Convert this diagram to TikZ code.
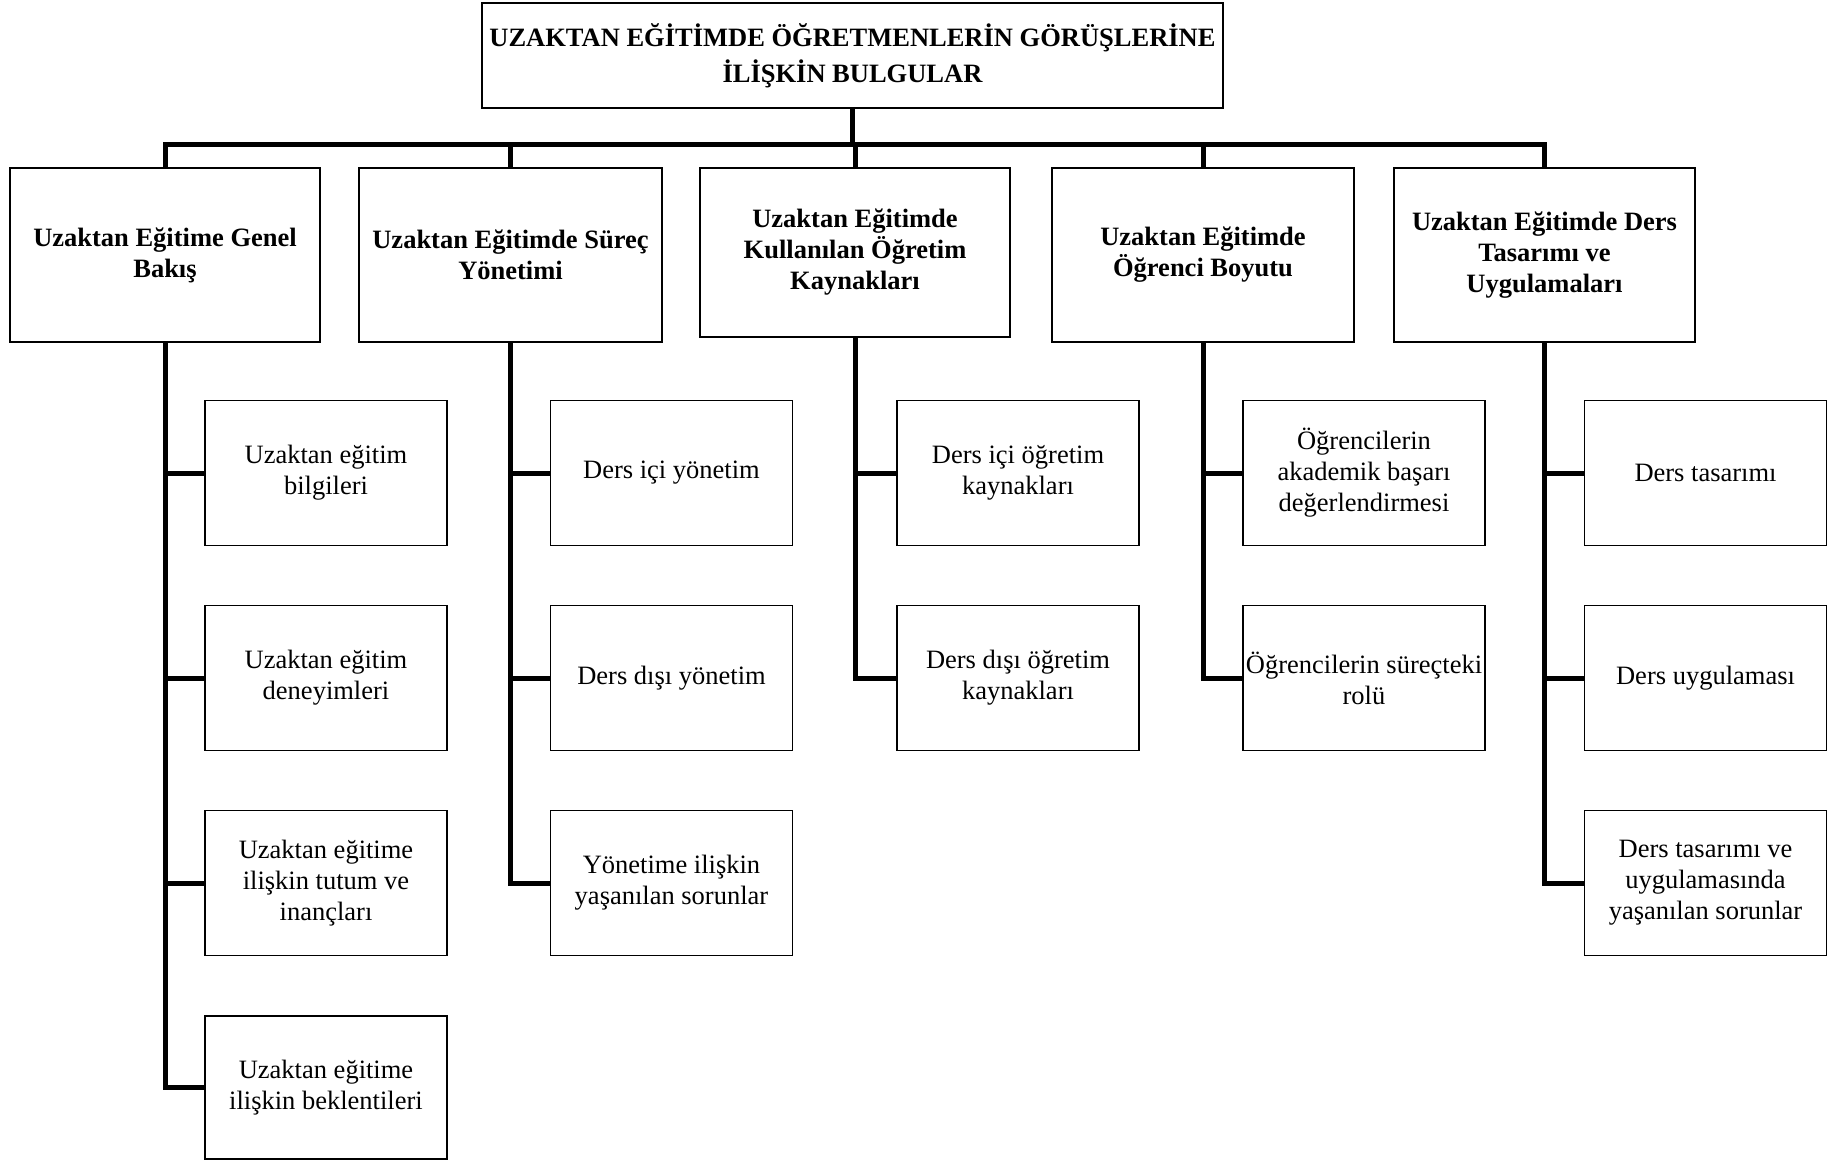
\documentclass[tikz,border=0pt]{standalone}
\usepackage{fontspec}
\setmainfont{Liberation Serif}
\begin{document}
\begin{tikzpicture}[
  x=1pt, y=-1pt,
  title/.style={rectangle, draw, line width=1.6pt, minimum width=741pt, minimum height=105pt, font=\fontsize{26.5}{36}\selectfont\bfseries, align=center, inner sep=2pt},
  theme/.style={rectangle, draw, line width=1.5pt, minimum width=306pt, minimum height=174pt, font=\fontsize{26.5}{31}\selectfont\bfseries, align=center, inner sep=2pt},
  sub/.style={rectangle, draw, line width=1.5pt, minimum width=242pt, minimum height=145pt, font=\fontsize{26.5}{31}\selectfont, align=center, inner sep=2pt},
  conn/.style={line width=5pt}
]
\useasboundingbox (0,0) rectangle (1827,1160);

\node[title] (top) at (852.5,55.5) {UZAKTAN EĞİTİMDE ÖĞRETMENLERİN GÖRÜŞLERİNE\\İLİŞKİN BULGULAR};

% Themes
\node[theme, minimum width=310pt] (genel) at (165,255) {Uzaktan Eğitime Genel\\Bakış};
\node[theme, minimum width=303pt] (surec) at (510.5,255) {Uzaktan Eğitimde Süreç\\Yönetimi};
\node[theme, minimum width=310pt, minimum height=169pt] (kaynak) at (855,252.5) {Uzaktan Eğitimde\\Kullanılan Öğretim\\Kaynakları};
\node[theme, minimum width=302pt] (ogrenci) at (1203,255) {Uzaktan Eğitimde\\Öğrenci Boyutu};
\node[theme, minimum width=301pt] (ders) at (1544.5,255) {Uzaktan Eğitimde Ders\\Tasarımı ve\\Uygulamaları};

% Sub-themes
\node[sub] (genel1) at (326,473) {Uzaktan eğitim\\bilgileri};
\node[sub] (genel2) at (326,678) {Uzaktan eğitim\\deneyimleri};
\node[sub] (genel3) at (326,883) {Uzaktan eğitime\\ilişkin tutum ve\\inançları};
\node[sub, minimum height=143pt] (genel4) at (326,1087.5) {Uzaktan eğitime\\ilişkin beklentileri};

\node[sub] (surec1) at (671.5,473) {Ders içi yönetim};
\node[sub] (surec2) at (671.5,678) {Ders dışı yönetim};
\node[sub] (surec3) at (671.5,883) {Yönetime ilişkin\\yaşanılan sorunlar};

\node[sub] (kaynak1) at (1018,473) {Ders içi öğretim\\kaynakları};
\node[sub] (kaynak2) at (1018,678) {Ders dışı öğretim\\kaynakları};

\node[sub] (ogrenci1) at (1364,473) {Öğrencilerin\\akademik başarı\\değerlendirmesi};
\node[sub] (ogrenci2) at (1364,678) {Öğrencilerin süreçteki\\rolü};

\node[sub] (ders1) at (1705.5,473) {Ders tasarımı};
\node[sub] (ders2) at (1705.5,678) {Ders uygulaması};
\node[sub] (ders3) at (1705.5,883) {Ders tasarımı ve\\uygulamasında\\yaşanılan sorunlar};

% Top level connectors
\draw[conn] (top.south) -- ++(0,36) -| (genel.north);
\draw[conn] (top.south) -- ++(0,36) -| (surec.north);
\draw[conn] (top.south) -- ++(0,36) -| (kaynak.north);
\draw[conn] (top.south) -- ++(0,36) -| (ogrenci.north);
\draw[conn] (top.south) -- ++(0,36) -| (ders.north);

% Sub-theme connectors
\draw[conn] (genel.south) |- (genel1.west);
\draw[conn] (genel.south) |- (genel2.west);
\draw[conn] (genel.south) |- (genel3.west);
\draw[conn] (genel.south) |- (genel4.west);

\draw[conn] (surec.south) |- (surec1.west);
\draw[conn] (surec.south) |- (surec2.west);
\draw[conn] (surec.south) |- (surec3.west);

\draw[conn] (kaynak.south) |- (kaynak1.west);
\draw[conn] (kaynak.south) |- (kaynak2.west);

\draw[conn] (ogrenci.south) |- (ogrenci1.west);
\draw[conn] (ogrenci.south) |- (ogrenci2.west);

\draw[conn] (ders.south) |- (ders1.west);
\draw[conn] (ders.south) |- (ders2.west);
\draw[conn] (ders.south) |- (ders3.west);

\end{tikzpicture}
\end{document}
